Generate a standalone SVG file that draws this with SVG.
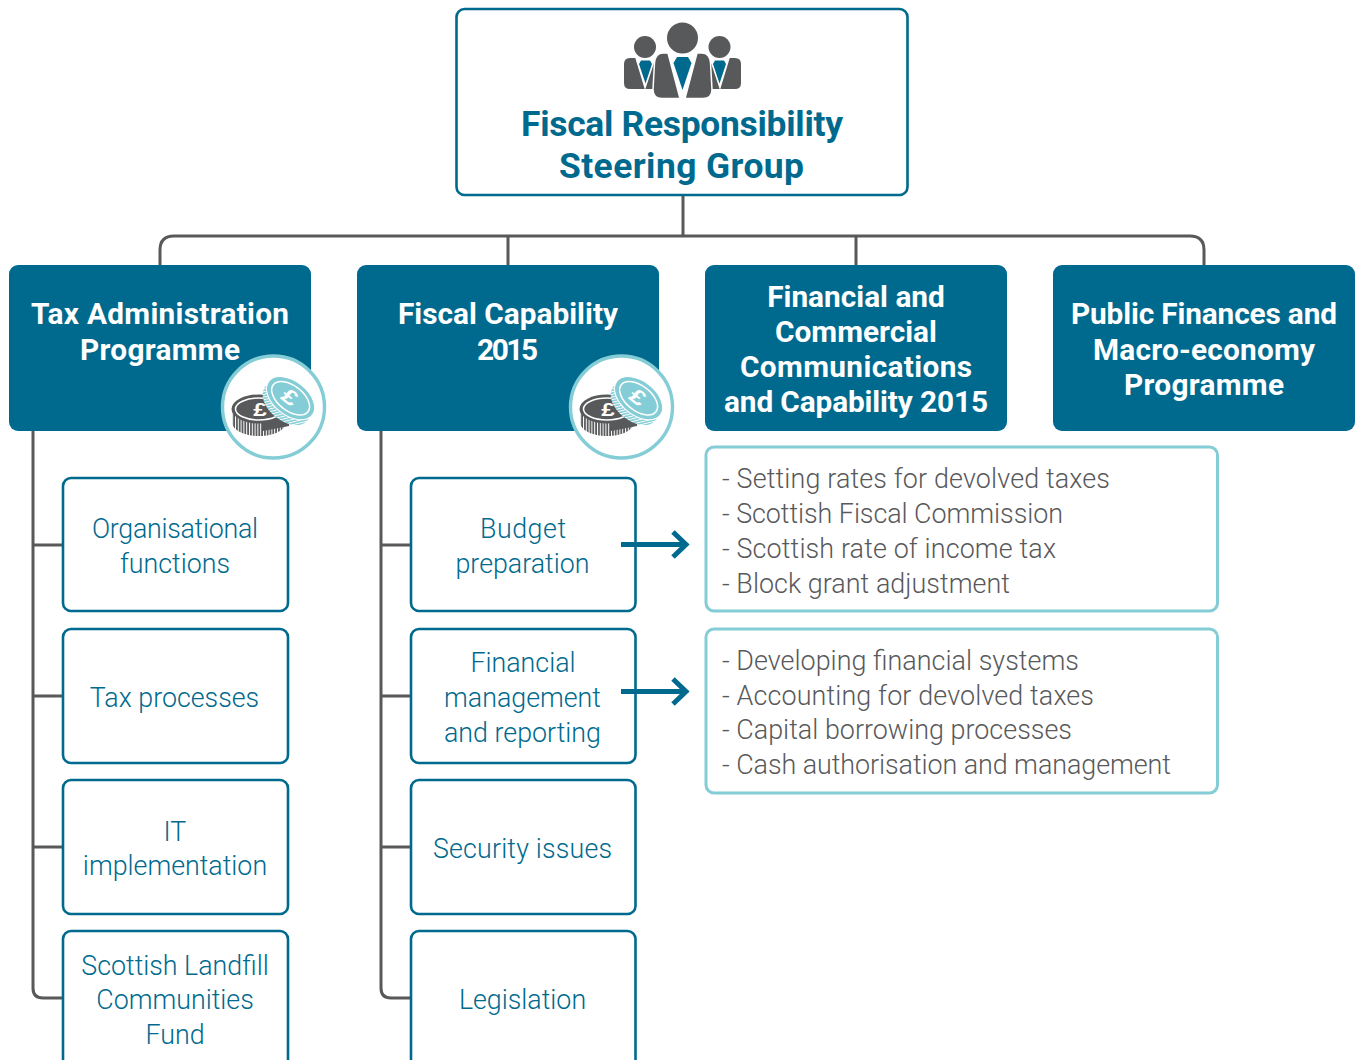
<svg xmlns="http://www.w3.org/2000/svg" width="1358" height="1060" viewBox="0 0 1358 1060">
<style>
text{font-family:Roboto,"Liberation Sans",sans-serif;text-anchor:middle}
.head{font-size:29.8px;font-weight:700;fill:#fff}
.top{font-size:35.4px;font-weight:700;fill:#006a8e}
.sub{font-size:26.8px;font-weight:300;fill:#006a8e}
.li{font-size:26.9px;font-weight:300;fill:#58595b;text-anchor:start}
.hb{fill:#006a8e}
.sb{fill:#fff;stroke:#006a8e;stroke-width:2.6}
.lb{fill:#fff;stroke:#84cdd6;stroke-width:3}
.c{fill:none;stroke:#58595b;stroke-width:3}
.a{fill:none;stroke:#006a8e;stroke-width:5}
.g{fill:#58595b}
.t{fill:#006a8e}
.pd{font-family:"Liberation Sans",sans-serif;font-weight:700;fill:#fff}
</style>
<defs>
<pattern id="ridgeD" width="2.8" height="10" patternUnits="userSpaceOnUse"><rect width="2.8" height="10" fill="#58595b"/><rect width="1" height="10" fill="#fff"/></pattern>
<pattern id="ridgeL" width="2.6" height="10" patternUnits="userSpaceOnUse" patternTransform="rotate(38)"><rect width="2.6" height="10" fill="#84cdd6"/><rect width="1" height="10" fill="#fff"/></pattern>
<g id="side">
<path class="g" d="M630 58h30v31h-30q-6 0-6-6V64q0-6 6-6z"/>
<path fill="#fff" d="M635 57L645 90L656 57z"/>
<path class="t" d="M641 60.500h9l2 3.500-6.500 19.500L639 64z"/>
</g>
<g id="coins">
<circle cx="52.500" cy="52" r="51" fill="#fff" stroke="#84cdd6" stroke-width="3.400"/>
<path d="M11 54v13c0 8 12 14 27 14s27-6 27-14V54z" fill="url(#ridgeD)"/>
<path d="M42 76l26-5V60l-26 8z" fill="#58595b"/>
<ellipse cx="38" cy="54" rx="27.500" ry="14.500" fill="#58595b"/>
<ellipse cx="38" cy="54" rx="23.500" ry="11" fill="none" stroke="#fff" stroke-width="1.500"/>
<text class="pd" x="0" y="0" font-size="22" transform="translate(39 61) scale(1.1 .8)">£</text>
<g transform="rotate(38 69 44)">
<rect x="42" y="42" width="54" height="8" fill="url(#ridgeL)"/>
<ellipse cx="69" cy="50" rx="27" ry="17" fill="url(#ridgeL)"/>
<ellipse cx="69" cy="43" rx="27.500" ry="17" fill="#84cdd6" stroke="#fff" stroke-width="1"/>
<ellipse cx="69" cy="43" rx="22" ry="12.500" fill="none" stroke="#fff" stroke-width="1.500"/>
</g>
<text class="pd" x="0" y="0" font-size="26" transform="translate(69 42) rotate(38) scale(1.05 .8) translate(0 9)">£</text>
</g>
</defs>
<g id="connectors">
<path class="c" d="M683 195V236M160 265V250Q160 236 174 236H1190Q1204 236 1204 250V265M508 236V265M856 236V265"/>
<path class="c" d="M33 431V988Q33 998 43 998H63M33 545H63M33 696H63M33 847H63"/>
<path class="c" d="M381 431V988Q381 998 391 998H411M381 545H411M381 696H411M381 847H411"/>
</g>
<g id="steering">
<rect x="456.500" y="9" width="451" height="186" rx="8" fill="#fff" stroke="#006a8e" stroke-width="2.600"/>
<use href="#side"/>
<use href="#side" transform="translate(1365 0) scale(-1 1)"/>
<circle cx="682.500" cy="38" r="15.500" class="g"/>
<circle cx="645" cy="47" r="11" class="g"/>
<circle cx="719.500" cy="47" r="11" class="g"/>
<path class="g" stroke="#fff" stroke-width="1.500" d="M663 53h5l12 45.500H662q-9 0-9-9l1.500-27q1-9.500 8.500-9.500zM702 53h-5l-12 45.500H703q9 0 9-9l-1.500-27q-1-9.500-8.500-9.500z"/>
<path class="t" d="M677 57h11l3.500 6-9 27-9-27z"/>
<text class="top" x="682" y="136" textLength="322">Fiscal Responsibility</text>
<text class="top" x="681.500" y="178" textLength="245">Steering Group</text>
</g>
<g id="tax-admin">
<rect class="hb" x="9" y="265" width="302" height="166" rx="9"/>
<text class="head" x="160" y="324" textLength="258">Tax Administration</text>
<text class="head" x="160" y="360" textLength="160">Programme</text>
<use href="#coins" x="221" y="355"/>
</g>
<g id="fiscal-capability">
<rect class="hb" x="357" y="265" width="302" height="166" rx="9"/>
<text class="head" x="508" y="324">Fiscal Capability</text>
<text class="head" x="507.500" y="360" textLength="61">2015</text>
<use href="#coins" x="569" y="355"/>
</g>
<g id="financial-comms">
<rect class="hb" x="705" y="265" width="302" height="166" rx="9"/>
<text class="head" x="856" y="307">Financial and</text>
<text class="head" x="856" y="342">Commercial</text>
<text class="head" x="856" y="377" textLength="232">Communications</text>
<text class="head" x="856" y="412" textLength="264">and Capability 2015</text>
</g>
<g id="public-finances">
<rect class="hb" x="1053" y="265" width="302" height="166" rx="9"/>
<text class="head" x="1204" y="324" textLength="266">Public Finances and</text>
<text class="head" x="1204" y="360" textLength="222">Macro-economy</text>
<text class="head" x="1204" y="395" textLength="160">Programme</text>
</g>
<g id="organisational"><rect class="sb" x="63" y="478" width="225" height="133" rx="8"/><text class="sub" x="175" y="538" textLength="166">Organisational</text><text class="sub" x="175" y="573">functions</text></g>
<g id="tax-processes"><rect class="sb" x="63" y="629" width="225" height="134" rx="8"/><text class="sub" x="174.500" y="707">Tax processes</text></g>
<g id="it"><rect class="sb" x="63" y="780" width="225" height="134" rx="8"/><text class="sub" x="175" y="841">IT</text><text class="sub" x="175" y="875">implementation</text></g>
<g id="landfill"><rect class="sb" x="63" y="931" width="225" height="140" rx="8"/><text class="sub" x="175" y="975">Scottish Landfill</text><text class="sub" x="175" y="1009">Communities</text><text class="sub" x="175" y="1044">Fund</text></g>
<g id="budget"><rect class="sb" x="411" y="478" width="224.500" height="133" rx="8"/><text class="sub" x="523" y="538" textLength="86">Budget</text><text class="sub" x="522.500" y="573">preparation</text></g>
<g id="fin-mgmt"><rect class="sb" x="411" y="629" width="224.500" height="134" rx="8"/><text class="sub" x="523" y="672">Financial</text><text class="sub" x="522.500" y="707">management</text><text class="sub" x="522.500" y="742">and reporting</text></g>
<g id="security"><rect class="sb" x="411" y="780" width="224.500" height="134" rx="8"/><text class="sub" x="522.500" y="858" textLength="179">Security issues</text></g>
<g id="legislation"><rect class="sb" x="411" y="931" width="224.500" height="140" rx="8"/><text class="sub" x="522.500" y="1009">Legislation</text></g>
<g id="list-1"><rect class="lb" x="706" y="447" width="511.500" height="164" rx="8"/>
<text class="li" x="722" y="488" textLength="388">- Setting rates for devolved taxes</text>
<text class="li" x="722" y="523" textLength="341">- Scottish Fiscal Commission</text>
<text class="li" x="722" y="558" textLength="334">- Scottish rate of income tax</text>
<text class="li" x="722" y="593" textLength="288">- Block grant adjustment</text></g>
<g id="list-2"><rect class="lb" x="706" y="629" width="511.500" height="164" rx="8"/>
<text class="li" x="722" y="670" textLength="357">- Developing financial systems</text>
<text class="li" x="722" y="705" textLength="372">- Accounting for devolved taxes</text>
<text class="li" x="722" y="739" textLength="350">- Capital borrowing processes</text>
<text class="li" x="722" y="774" textLength="449">- Cash authorisation and management</text></g>
<g id="arrows">
<path class="a" d="M621 544.500H686M673 532l13 12.500-13 12.500"/>
<path class="a" d="M621 691.500H686M673 679l13 12.500-13 12.500"/>
</g>
</svg>
